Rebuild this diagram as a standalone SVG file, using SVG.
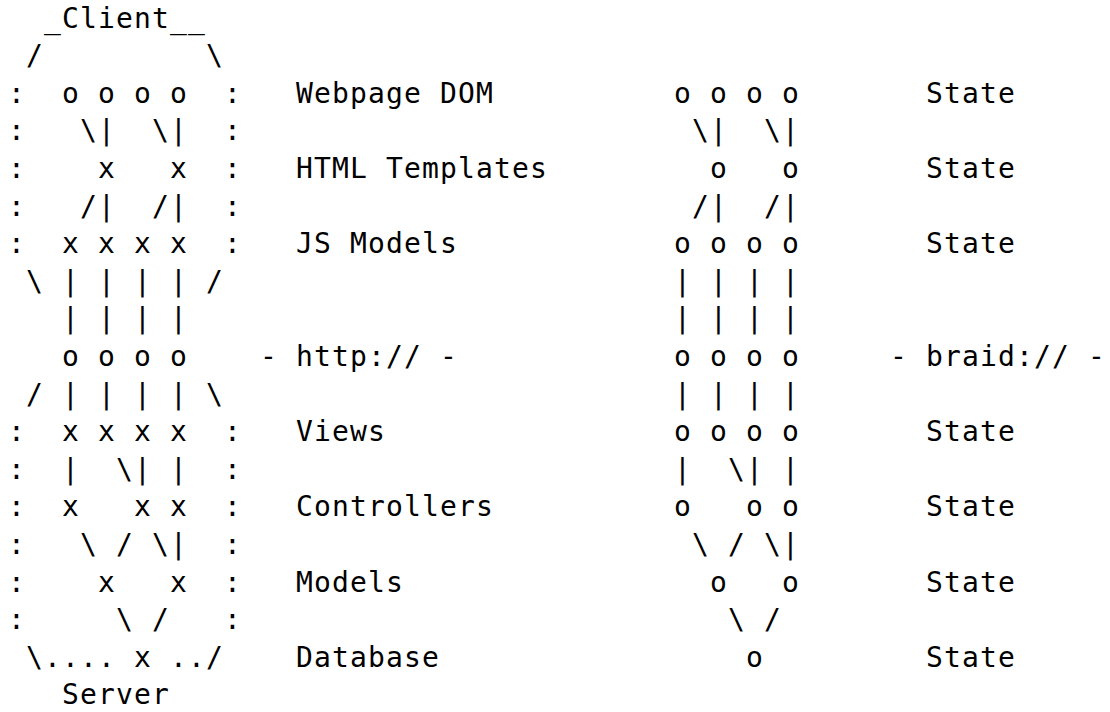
<svg xmlns="http://www.w3.org/2000/svg" width="1110" height="712" viewBox="0 0 1110 712">
<style>
text{font-family:"DejaVu Sans Mono","Liberation Mono",monospace;font-size:28px;letter-spacing:1.14px;fill:#000;white-space:pre}
</style>
<rect width="1110" height="712" fill="#fff"/>
<g id="client-server" xml:space="preserve">
<text x="8" y="27.5">  _Client__</text>
<text x="8" y="65.1"> /         \</text>
<text x="8" y="102.7">:  o o o o  :</text>
<text x="8" y="140.3">:   \|  \|  :</text>
<text x="8" y="177.9">:    x   x  :</text>
<text x="8" y="215.5">:   /|  /|  :</text>
<text x="8" y="253.1">:  x x x x  :</text>
<text x="8" y="290.7"> \ | | | | /</text>
<text x="8" y="328.3">   | | | |</text>
<text x="8" y="365.9">   o o o o</text>
<text x="8" y="403.5"> / | | | | \</text>
<text x="8" y="441.1">:  x x x x  :</text>
<text x="8" y="478.7">:  |  \| |  :</text>
<text x="8" y="516.3">:  x   x x  :</text>
<text x="8" y="553.9">:   \ / \|  :</text>
<text x="8" y="591.5">:    x   x  :</text>
<text x="8" y="629.1">:     \ /   :</text>
<text x="8" y="666.7"> \.... x ../</text>
<text x="8" y="704.3">   Server</text>
</g>
<g id="layer-labels" xml:space="preserve">
<text x="296" y="102.7">Webpage DOM</text>
<text x="296" y="177.9">HTML Templates</text>
<text x="296" y="253.1">JS Models</text>
<text x="260" y="365.9">- http:// -</text>
<text x="296" y="441.1">Views</text>
<text x="296" y="516.3">Controllers</text>
<text x="296" y="591.5">Models</text>
<text x="296" y="666.7">Database</text>
</g>
<g id="braid-state" xml:space="preserve">
<text x="674" y="102.7">o o o o</text>
<text x="674" y="140.3"> \|  \|</text>
<text x="674" y="177.9">  o   o</text>
<text x="674" y="215.5"> /|  /|</text>
<text x="674" y="253.1">o o o o</text>
<text x="674" y="290.7">| | | |</text>
<text x="674" y="328.3">| | | |</text>
<text x="674" y="365.9">o o o o</text>
<text x="674" y="403.5">| | | |</text>
<text x="674" y="441.1">o o o o</text>
<text x="674" y="478.7">|  \| |</text>
<text x="674" y="516.3">o   o o</text>
<text x="674" y="553.9"> \ / \|</text>
<text x="674" y="591.5">  o   o</text>
<text x="674" y="629.1">   \ /</text>
<text x="674" y="666.7">    o</text>
</g>
<g id="state-labels" xml:space="preserve">
<text x="926" y="102.7">State</text>
<text x="926" y="177.9">State</text>
<text x="926" y="253.1">State</text>
<text x="890" y="365.9">- braid:// -</text>
<text x="926" y="441.1">State</text>
<text x="926" y="516.3">State</text>
<text x="926" y="591.5">State</text>
<text x="926" y="666.7">State</text>
</g>
</svg>
